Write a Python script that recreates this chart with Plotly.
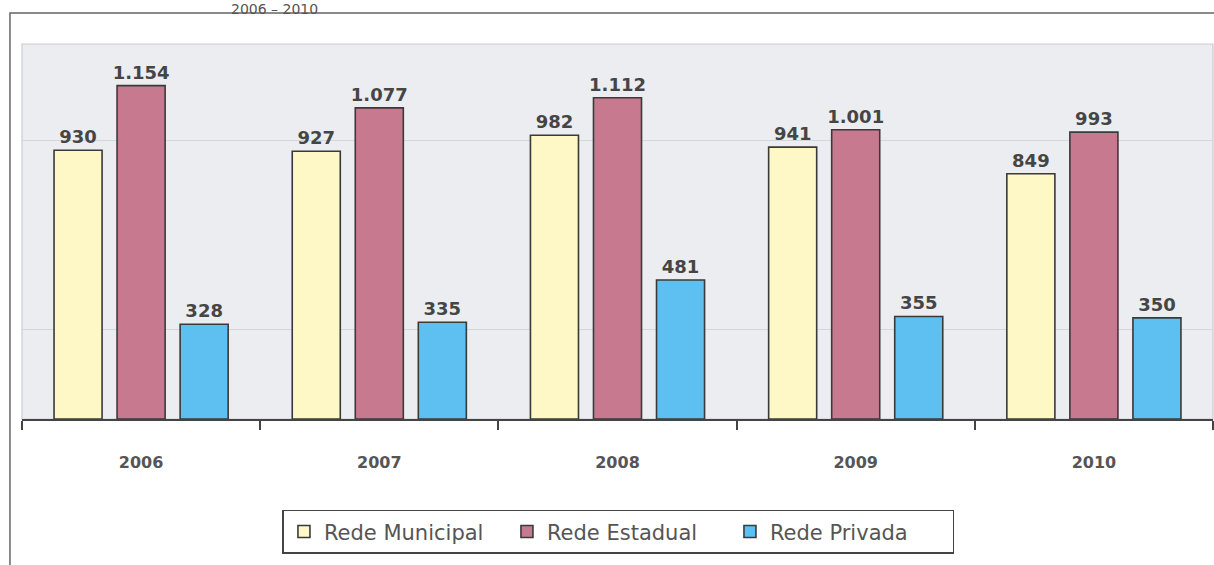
import plotly.graph_objects as go

years = ["2006", "2007", "2008", "2009", "2010"]
municipal = [930, 927, 982, 941, 849]
estadual = [1154, 1077, 1112, 1001, 993]
privada = [328, 335, 481, 355, 350]
series_names = ["Rede Municipal", "Rede Estadual", "Rede Privada"]
grid_values = [310, 965]
title_text = "2006 – 2010"

colors = ["#FEF7C6", "#C7798F", "#5DC0F1"]
FONT = "DejaVu Sans, Verdana, sans-serif"

fig = go.Figure()
for name, vals, col in zip(series_names, [municipal, estadual, privada], colors):
    fig.add_trace(go.Bar(
        x=years, y=vals, name=name,
        marker=dict(color=col, line=dict(color="#3a3a3a", width=1.6)),
        texttemplate="%{y:,}", textposition="outside", constraintext="none",
        textfont=dict(family=FONT, size=18, color="#454545", weight="bold"),
        cliponaxis=False,
    ))

fig.update_layout(
    width=1214, height=565,
    margin=dict(l=22, r=1, t=44, b=146),
    separators=",.",
    barmode="group", bargap=0.206, bargroupgap=0.238,
    paper_bgcolor="white", plot_bgcolor="#EBEDF0",
    font=dict(family=FONT, color="#444444"),
    showlegend=True,
    legend=dict(
        orientation="h", x=0.5008, xanchor="center", y=-0.301, yanchor="middle",
        bordercolor="#444444", borderwidth=1.5, bgcolor="white",
        font=dict(size=21, color="#555555", family=FONT),
        traceorder="normal", entrywidth=178, entrywidthmode="pixels",
    ),
    xaxis=dict(
        type="category", showline=True, linecolor="#444444", linewidth=1.5,
        ticks="outside", tickson="boundaries", ticklen=9, tickcolor="#444444", tickwidth=1.5,
        tickfont=dict(size=16, color="#555555", family=FONT, weight="bold"),
        ticklabelstandoff=28, showgrid=False,
    ),
    yaxis=dict(
        range=[0, 1298], tickvals=grid_values, showticklabels=False,
        showgrid=True, gridcolor="#D3D6DB", gridwidth=1, zeroline=False,
    ),
    shapes=[
        dict(type="rect", xref="paper", yref="paper", x0=0, x1=1, y0=0, y1=1,
             line=dict(color="#C8CBD0", width=1.2), layer="below"),
        dict(type="rect", xref="paper", yref="paper", x0=-0.0101, x1=1.01, y0=-0.42, y1=1.0827,
             line=dict(color="#666666", width=1.5)),
    ],
    annotations=[
        dict(text=title_text, xref="paper", yref="paper", x=0.2124, y=1.1173,
             xanchor="center", yanchor="top", showarrow=False, borderpad=0,
             font=dict(size=14, color="#555555", family=FONT)),
    ],
)

fig.write_html(
    "out.html",
    config={"displayModeBar": False},
    post_script="document.body.style.margin='0';document.body.style.overflow='hidden';",
)
